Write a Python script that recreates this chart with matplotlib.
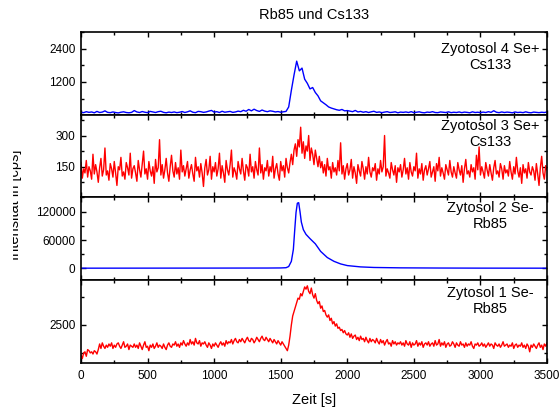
import numpy as np
import matplotlib
matplotlib.use("Agg")
import matplotlib.pyplot as plt
from matplotlib.ticker import MultipleLocator
from matplotlib.transforms import Bbox, TransformedBbox

plt.rcParams['font.family'] = ['Liberation Sans', 'DejaVu Sans']

# Zyotosol 4 Se+ / Cs133 (alle 20 s)
cs133_4 = [110, 95, 130, 105, 120, 90, 140, 100, 115, 160, 105, 95, 120, 100, 85, 110, 125, 100, 90, 105,
           170, 120, 100, 135, 110, 95, 140, 120, 100, 130, 145, 105, 90, 115, 100, 120, 95, 110, 135, 100,
           125, 160, 110, 95, 140, 130, 105, 120, 150, 175, 115, 130, 100, 145, 110, 125, 140, 105, 120, 150,
           130, 180, 145, 210, 160, 220, 170, 140, 190, 150, 130, 160, 145, 120, 135, 110, 125, 140,
           300, 900, 1450, 1950, 1600, 1700, 1300, 1150, 950, 1000, 820, 700, 520, 450, 380, 300, 260, 230,
           200, 180, 210, 160, 170,
           150, 130, 175, 120, 140, 110, 130, 100, 125, 145, 105, 120, 95, 115, 130, 100, 110, 125, 90, 115,
           105, 120, 100, 130, 95, 110, 125, 100, 90, 115, 105, 130, 100, 95, 120, 110, 100, 125, 95, 110,
           100, 120, 95, 115, 105, 90, 125, 100, 110, 95, 115, 100, 130, 105, 165, 110, 95, 120, 100, 115,
           105, 90, 120, 100, 110, 95, 125, 100, 90, 115, 105, 95, 110, 100, 120]

# Zyotosol 3 Se+ / Cs133 (alle 10 s)
cs133_3 = [170, 95, 140, 120, 180, 100, 150, 130, 90, 210, 115, 160, 125, 75, 145, 190, 105, 135, 240, 110,
           130, 85, 165, 140, 100, 175, 120, 60, 150, 135, 195, 105, 125, 90, 170, 145, 110, 215, 95, 140,
           155, 120, 80, 180, 135, 100, 160, 225, 115, 140, 90, 175, 130, 105, 150, 70, 185, 125, 145, 280,
           110, 160, 95, 135, 190, 120, 80, 150, 205, 130, 100, 170, 115, 145, 90, 230, 125, 155, 105, 140,
           175, 95, 135, 160, 115, 80, 195, 130, 150, 100, 165, 120, 55, 145, 185, 110, 135, 200, 90, 150,
           125, 170, 105, 140, 215, 95, 155, 120, 75, 180, 135, 110, 160, 230, 100, 145, 125, 90, 175, 140,
           115, 190, 130, 85, 160, 145, 105, 210, 125, 150, 95, 175, 135, 110, 240, 120, 160, 90, 145, 130,
           180, 105, 150, 125, 200, 95, 140, 165, 115, 85, 175, 130, 155, 100, 190, 145, 120, 170, 210, 160,
           230, 260, 200, 280, 245, 340, 215, 270, 190, 250, 225, 300, 180, 240, 210, 160, 230, 190, 150, 200,
           145, 175, 120, 160, 105, 190, 135, 150, 95, 170, 125, 145, 110, 180, 130, 265, 115, 155, 90, 140,
           165, 110, 135, 185, 95, 150, 120, 70, 160, 130, 105, 175, 140, 90, 150, 115, 195, 125, 100, 145,
           130, 165, 85, 140, 115, 180, 125, 150, 300, 105, 140, 120, 95, 170, 135, 110, 155, 75, 145, 125,
           160, 100, 135, 190, 115, 145, 90, 170, 125, 105, 150, 130, 215, 95, 140, 115, 165, 85, 135, 155,
           110, 140, 175, 100, 125, 150, 80, 165, 130, 195, 105, 145, 120, 90, 160, 135, 110, 180, 125, 100,
           150, 120, 95, 170, 135, 110, 155, 75, 140, 185, 115, 130, 100, 160, 125, 145, 90, 205, 135, 245,
           110, 150, 125, 95, 170, 135, 105, 160, 120, 85, 145, 180, 115, 130, 100, 165, 140, 90, 155, 120,
           135, 105, 175, 125, 90, 150, 115, 195, 130, 100, 145, 70, 160, 120, 140, 95, 170, 125, 110, 150,
           130, 85, 165, 115, 60, 145, 200, 120, 90, 155, 135]

# Zytosol 2 Se- / Rb85
rb85_2_t = [0, 500, 1000, 1400, 1500, 1540, 1560, 1580, 1595, 1605, 1615, 1625, 1635, 1645, 1655, 1670,
            1690, 1720, 1760, 1800, 1850, 1900, 1950, 2000, 2100, 2200, 2400, 2700, 3000, 3500]
rb85_2 = [500, 600, 700, 800, 1000, 1500, 4000, 15000, 40000, 80000, 118000, 138000, 139000, 120000,
          98000, 82000, 72000, 63000, 52000, 36000, 23000, 15000, 9500, 6000, 3200, 2000, 1200, 800, 600, 500]

# Zytosol 1 Se- / Rb85 (alle 10 s)
rb85_1 = [1150, 1000, 1250, 1300, 1100, 1400, 1350, 1250, 1300, 1200, 1350, 1300, 1200, 1400, 1650, 1450, 1700, 1550, 1450, 1600,
          1500, 1650, 1550, 1700, 1450, 1600, 1500, 1650, 1700, 1550, 1450, 1600, 1750, 1500, 1550, 1650, 1400, 1600, 1550, 1500,
          1650, 1500, 1600, 1450, 1700, 1550, 1400, 1600, 1750, 1500, 1550, 1350, 1600, 1500, 1650, 1450, 1550, 1700, 1500, 1600,
          1550, 1450, 1650, 1500, 1400, 1600, 1700, 1550, 1500, 1650, 1600, 1750, 1550, 1650, 1500, 1700, 1600, 1800, 1650, 1550,
          1700, 1600, 1850, 1650, 1750, 1600, 1900, 1700, 1650, 1800, 1550, 1700, 1650, 1750, 1600, 1500, 1700, 1600, 1450, 1650,
          1550, 1700, 1600, 1500, 1650, 1750, 1600, 1700, 1550, 1800, 1650, 1750, 1700, 1850, 1650, 1800, 1900, 1750, 1700, 1850,
          1750, 1900, 1800, 1700, 1850, 1950, 1800, 1750, 1900, 1850, 1700, 1800, 1950, 1850, 1750, 1900, 2000, 1850, 1800, 1950,
          1850, 1750, 1900, 1800, 1700, 1850, 1750, 1650, 1800, 1700, 1600, 1750, 1650, 1550, 1450, 1350, 1600, 2000, 2500, 2900,
          3100, 3300, 3500, 3700, 3650, 3900, 3800, 4000, 4200, 4100, 4250, 4000, 3900, 4150, 3850, 3700, 3900, 3600, 3450, 3550,
          3250, 3350, 3100, 3150, 2950, 2850, 2950, 2700, 2800, 2550, 2650, 2450, 2550, 2350, 2400, 2250, 2300, 2150, 2250, 2100,
          2050, 2150, 1950, 2100, 1900, 2000, 2050, 1850, 1950, 1800, 2000, 1850, 1900, 1750, 1950, 1800, 1700, 1900, 1750, 1850,
          1800, 1700, 1900, 1750, 1650, 1850, 1700, 1800, 1600, 1750, 1850, 1650, 1700, 1550, 1800, 1650, 1750, 1600, 1700, 1650,
          1750, 1600, 1700, 1550, 1800, 1650, 1600, 1750, 1500, 1700, 1600, 1650, 1800, 1550, 1700, 1600, 1750, 1500, 1650, 1700,
          1600, 1750, 1550, 1650, 1700, 1550, 1800, 1600, 1650, 1850, 1550, 1700, 1600, 1750, 1500, 1650, 1700, 1550, 1600, 1750,
          1650, 1500, 1700, 1600, 1550, 1750, 1600, 1650, 1500, 1700, 1550, 1650, 1600, 1750, 1550, 1450, 1650, 1600, 1700, 1550,
          1600, 1700, 1550, 1650, 1500, 1600, 1700, 1550, 1650, 1600, 1450, 1700, 1600, 1550, 1650, 1500, 1600, 1750, 1550, 1600,
          1650, 1500, 1600, 1550, 1700, 1450, 1600, 1650, 1500, 1600, 1550, 1700, 1500, 1600, 1450, 1650, 1550, 1300, 1600, 1500,
          1650, 1550, 1450, 1600, 1700, 1500, 1600, 1400, 1650, 1550, 1700]

labels = ['Zyotosol 4 Se+\nCs133', 'Zyotosol 3 Se+\nCs133', 'Zytosol 2 Se-\nRb85', 'Zytosol 1 Se-\nRb85']

t20 = np.arange(len(cs133_4)) * 20
t10 = np.arange(len(cs133_3)) * 10
t10b = np.arange(len(rb85_1)) * 10

fig, axes = plt.subplots(4, 1, sharex=True, figsize=(5.6, 4.09), dpi=100)
fig.subplots_adjust(left=0.1446, right=0.9768, top=0.9218, bottom=0.1125, hspace=0)

series = [(t20, cs133_4, 'blue'), (t10, cs133_3, 'red'), (rb85_2_t, rb85_2, 'blue'), (t10b, rb85_1, 'red')]
ylims = [(20, 3000), (2, 400), (-25000, 150000), (800, 4500)]
majors = [1200, 150, 60000, 2500]
label_y = [0.695, 0.765, 0.774, 0.747]

for ax, (x, y, c), yl, mj, lab, ly in zip(axes, series, ylims, majors, labels, label_y):
    ax.plot(x, y, color=c, lw=1.0)
    ax.set_ylim(*yl)
    ax.set_xlim(0, 3500)
    ax.yaxis.set_major_locator(MultipleLocator(mj))
    ax.yaxis.set_minor_locator(MultipleLocator(mj / 2))
    ax.xaxis.set_major_locator(MultipleLocator(500))
    ax.xaxis.set_minor_locator(MultipleLocator(250))
    ax.tick_params(which='both', direction='in', top=True, right=True, labelsize=8.5, width=1, pad=4)
    ax.tick_params(which='major', length=3.5)
    ax.tick_params(which='minor', length=2)
    for s in ax.spines.values():
        s.set_linewidth(1.2)
    ax.text(0.8777, ly, lab, transform=ax.transAxes, ha='center', va='center',
            multialignment='center', fontsize=10.5)

axes[-1].set_xlabel('Zeit [s]', fontsize=10.5, labelpad=8)
axes[-1].tick_params(axis='x', pad=5)

fig.text(314 / 560, 1 - 15 / 409, 'Rb85 und Cs133', ha='center', va='center', fontsize=10.5)
yl_txt = fig.text(15 / 560, 1 - 205 / 409, 'Intensität in [cps]', rotation=90,
                  ha='center', va='center', fontsize=10.5)
yl_txt.set_clip_box(TransformedBbox(Bbox([[12.5 / 560, 0], [1, 1]]), fig.transFigure))
yl_txt.set_clip_on(True)

fig.savefig('out.png', dpi=100)
